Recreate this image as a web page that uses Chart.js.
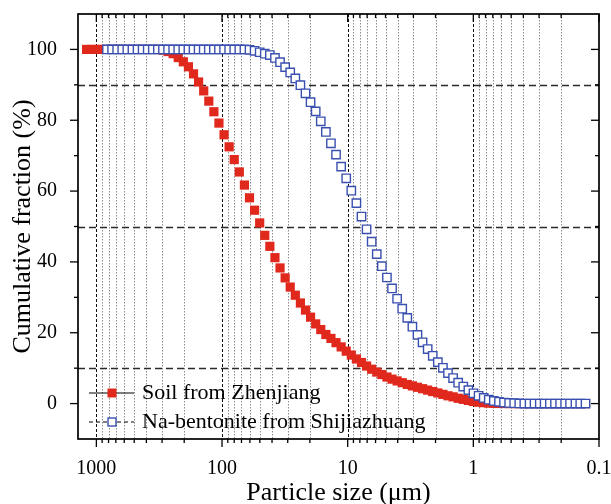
<!DOCTYPE html>
<html>
<head>
<meta charset="utf-8">
<script src="https://cdn.jsdelivr.net/npm/chart.js@4"></script>
<style>
  body { margin: 0; background: #fff; }
</style>
</head>
<body>
<canvas id="myChart" width="611" height="504"></canvas>
<script>
// particle size bins (um)
var sizes = [1196, 1089, 992, 903.7, 823.3, 749.9, 683.2, 622.3, 566.9, 516.4,
    470.4, 428.6, 390.3, 355.6, 323.9, 295.1, 268.8, 244.8, 223.1, 203.2,
    185.1, 168.6, 153.6, 139.9, 127.4, 116.1, 105.8, 96.35, 87.76, 79.95,
    72.83, 66.34, 60.43, 55.05, 50.15, 45.69, 41.62, 37.91, 34.54, 31.46,
    28.66, 26.10, 23.78, 21.66, 19.74, 17.97, 16.37, 14.91, 13.59, 12.38,
    11.27, 10.27, 9.358, 8.524, 7.765, 7.073, 6.443, 5.870, 5.347, 4.871,
    4.437, 4.042, 3.681, 3.354, 3.055, 2.783, 2.535, 2.309, 2.104, 1.916,
    1.746, 1.591, 1.449, 1.320, 1.202, 1.095, 0.998, 0.908, 0.827, 0.754,
    0.687, 0.625, 0.570, 0.519, 0.473, 0.431, 0.393, 0.357, 0.326, 0.296,
    0.271, 0.246, 0.224, 0.204, 0.186, 0.170, 0.154, 0.141, 0.128];

// cumulative fraction (%)
var soil = [100, 100, 100, 100, 100, 100, 100, 100, 100, 100,
    100, 100, 100, 100, 100, 99.8, 99.4, 98.8, 97.7, 96.5,
    95.1, 93.1, 90.8, 88.3, 85.4, 82.4, 79.2, 75.9, 72.5, 68.9,
    65.4, 61.7, 58.1, 54.6, 51.0, 47.5, 44.4, 41.2, 38.3, 35.5,
    32.9, 30.6, 28.4, 26.4, 24.4, 22.5, 20.9, 19.5, 18.4, 17.2,
    16.0, 14.8, 13.7, 12.6, 11.6, 10.6, 9.7, 8.9, 8.2, 7.5,
    6.9, 6.4, 5.9, 5.4, 5.0, 4.6, 4.2, 3.8, 3.4, 3.0,
    2.6, 2.2, 1.9, 1.5, 1.2, 0.9, 0.6, 0.4, 0.25, 0.15,
    0.08, 0.04, 0.02, 0.01, 0, 0, 0, 0, 0, 0,
    0, 0, 0, 0, 0, 0, 0, 0, 0];

var bentonite = [null, null, null, null, 100, 100, 100, 100, 100, 100,
    100, 100, 100, 100, 100, 100, 100, 100, 100, 100,
    100, 100, 100, 100, 100, 100, 100, 100, 100, 100,
    100, 100, 99.9, 99.6, 99.2, 98.8, 98.4, 97.6, 96.4, 95.0,
    93.5, 91.8, 89.9, 87.6, 85.1, 82.5, 79.7, 76.7, 73.5, 70.3,
    66.9, 63.6, 60.1, 56.6, 52.8, 49.2, 45.7, 42.2, 38.8, 35.6,
    32.5, 29.6, 26.8, 24.2, 21.7, 19.4, 17.3, 15.4, 13.5, 11.7,
    10.1, 8.6, 7.2, 5.9, 4.8, 3.8, 2.9, 2.2, 1.6, 1.1,
    0.75, 0.5, 0.3, 0.18, 0.1, 0.05, 0.02, 0, 0, 0,
    0, 0, 0, 0, 0, 0, 0, 0, 0];

var xMajorTicks = [1000, 100, 10, 1, 0.1];
var xTickLabels = ['1000', '100', '10', '1', '0.1'];
var yMajorTicks = [0, 20, 40, 60, 80, 100];
var yMinorTicks = [10, 30, 50, 70, 90];
var refLines = [10, 50, 90];

var xMinorTicks = [];
[0.1, 1, 10, 100].forEach(function (d) {
    for (var k = 2; k <= 9; k++) xMinorTicks.push(k * d);
});

var FONT = "'Liberation Serif', 'Times New Roman', serif";
var RED = '#e0281c';
var BLUE = '#3a50b0';

function toPoints(ys) {
    var pts = [];
    sizes.forEach(function (s, i) {
        if (ys[i] !== null) pts.push({ x: s, y: ys[i] });
    });
    return pts;
}

function seg(ctx, x1, y1, x2, y2) {
    ctx.beginPath();
    ctx.moveTo(x1, y1);
    ctx.lineTo(x2, y2);
    ctx.stroke();
}

//grid, frame, ticks, legend
var framePlugin = {
    id: 'frame',
    beforeDatasetsDraw: function (chart) {
        var ctx = chart.ctx, a = chart.chartArea, x = chart.scales.x, y = chart.scales.y;
        ctx.save();
        ctx.lineWidth = 1;
        ctx.strokeStyle = '#8c8c8c';
        ctx.setLineDash([1.5, 1.5]);
        xMinorTicks.forEach(function (v) {
            var px = Math.round(x.getPixelForValue(v)) + 0.5;
            seg(ctx, px, a.top, px, a.bottom);
        });
        ctx.strokeStyle = '#111';
        ctx.setLineDash([3, 2]);
        xMajorTicks.forEach(function (v) {
            var px = Math.round(x.getPixelForValue(v)) + 0.5;
            if (px < a.right - 2) seg(ctx, px, a.top, px, a.bottom);
        });
        ctx.strokeStyle = '#2a2a2a';
        ctx.lineWidth = 1.3;
        ctx.setLineDash([7, 4]);
        refLines.forEach(function (v) {
            var py = Math.round(y.getPixelForValue(v)) + 0.5;
            seg(ctx, a.left, py, a.right, py);
        });
        ctx.restore();
    },
    afterDraw: function (chart) {
        var ctx = chart.ctx, a = chart.chartArea, x = chart.scales.x, y = chart.scales.y;
        ctx.save();
        ctx.strokeStyle = '#000';
        ctx.lineWidth = 1.3;
        function xTick(v, len) {
            var px = x.getPixelForValue(v);
            seg(ctx, px, a.bottom, px, a.bottom + len);
            seg(ctx, px, a.top, px, a.top + len);
        }
        function yTick(v, len) {
            var py = y.getPixelForValue(v);
            seg(ctx, a.left - len, py, a.left, py);
            seg(ctx, a.right - len, py, a.right, py);
        }
        xMajorTicks.forEach(function (v) { xTick(v, 8); });
        xMinorTicks.forEach(function (v) { xTick(v, 4); });
        yMajorTicks.forEach(function (v) { yTick(v, 8); });
        yMinorTicks.forEach(function (v) { yTick(v, 4); });

        ctx.lineWidth = 1.7;
        ctx.strokeRect(a.left, a.top, a.right - a.left, a.bottom - a.top);

        // legend
        var ds = chart.data.datasets;
        var rows = [393, 422];
        ctx.font = '22px ' + FONT;
        ctx.fillStyle = '#000';
        ctx.textBaseline = 'middle';
        ds.forEach(function (d, i) {
            var ly = rows[i];
            ctx.lineWidth = 1;
            ctx.strokeStyle = '#000';
            ctx.setLineDash(i === 0 ? [] : [4, 3]);
            seg(ctx, 89, ly, 134, ly);
            ctx.setLineDash([]);
            if (i === 0) {
                ctx.fillStyle = RED;
                ctx.fillRect(112 - 4.5, ly - 4.5, 9, 9);
            } else {
                ctx.fillStyle = '#fff';
                ctx.fillRect(112 - 4, ly - 4, 8, 8);
                ctx.strokeStyle = BLUE;
                ctx.lineWidth = 1.4;
                ctx.strokeRect(112 - 4, ly - 4, 8, 8);
            }
            ctx.fillStyle = '#000';
            ctx.fillText(d.label, 142, ly);
        });
        ctx.restore();
    }
};

var ctx = document.getElementById('myChart').getContext('2d');
var myChart = new Chart(ctx, {
    type: 'scatter',
    data: {
        datasets: [{
            label: 'Soil from Zhenjiang',
            data: toPoints(soil),
            pointStyle: 'rect',
            pointRadius: 6.5,
            backgroundColor: RED,
            borderWidth: 0,
            order: 1
        }, {
            label: 'Na-bentonite from Shijiazhuang',
            data: toPoints(bentonite),
            pointStyle: 'rect',
            pointRadius: 5.9,
            backgroundColor: '#fff',
            borderColor: BLUE,
            borderWidth: 1.4,
            order: 0
        }]
    },
    options: {
        responsive: false,
        animation: false,
        devicePixelRatio: 1,
        layout: { padding: { top: 14, right: 12, left: 0, bottom: 0 } },
        plugins: { legend: { display: false }, tooltip: { enabled: false } },
        scales: {
            x: {
                type: 'logarithmic',
                reverse: true,
                min: 0.1,
                max: 1400,
                grid: { display: false },
                border: { display: false },
                afterBuildTicks: function (s) {
                    s.ticks = xMajorTicks.map(function (v) { return { value: v }; });
                },
                afterFit: function (s) {
                    s.height = 65;
                    s.paddingLeft = 0;
                    s.paddingRight = 0;
                },
                ticks: {
                    autoSkip: false,
                    maxRotation: 0,
                    padding: 10,
                    color: '#000',
                    font: { family: FONT, size: 20 },
                    callback: function (v, i) { return xTickLabels[i]; }
                },
                title: {
                    display: true,
                    text: 'Particle size (μm)',
                    color: '#000',
                    font: { family: FONT, size: 26, lineHeight: 1 },
                    padding: { top: 0, bottom: -2 }
                }
            },
            y: {
                min: -10,
                max: 110,
                grid: { display: false },
                border: { display: false },
                afterBuildTicks: function (s) {
                    s.ticks = yMajorTicks.map(function (v) { return { value: v }; });
                },
                afterFit: function (s) {
                    s.width = 78;
                    s.paddingTop = 0;
                    s.paddingBottom = 0;
                },
                ticks: {
                    padding: 13,
                    color: '#000',
                    font: { family: FONT, size: 20 }
                },
                title: {
                    display: true,
                    text: 'Cumulative fraction (%)',
                    color: '#000',
                    font: { family: FONT, size: 26, lineHeight: 1 },
                    padding: { top: 10, bottom: 0 }
                }
            }
        }
    },
    plugins: [framePlugin]
});
</script>
</body>
</html>
